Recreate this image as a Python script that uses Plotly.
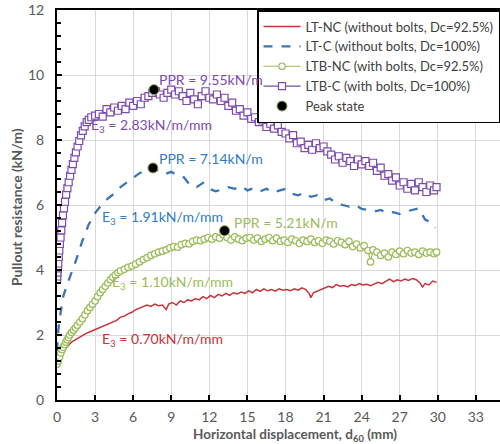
import plotly.graph_objects as go

# ---------------- data ----------------
lt_nc_x = [0.6, 0.8, 1.0, 1.2, 1.4, 1.6, 1.8, 2.0, 2.3, 2.6, 2.9, 3.2, 3.5, 3.8, 4.1, 4.4, 4.7, 5.0, 5.3, 5.6,
           5.9, 6.2, 6.5, 6.8, 7.1, 7.4, 7.7, 8.0, 8.3, 8.6, 8.8, 9.1, 9.4, 9.7, 10.0, 10.3, 10.6, 10.9, 11.2, 11.5,
           11.8, 12.1, 12.4, 12.7, 13.0, 13.3, 13.6, 13.9, 14.2, 14.5, 14.8, 15.1, 15.4, 15.7, 16.0, 16.3, 16.6, 16.9,
           17.2, 17.5, 17.8, 18.1, 18.4, 18.7, 19.0, 19.3, 19.6, 19.9, 20.0, 20.2, 20.5, 20.8, 21.1, 21.4, 21.7, 22.0,
           22.3, 22.6, 22.9, 23.2, 23.5, 23.8, 24.1, 24.4, 24.7, 25.0, 25.3, 25.6, 25.9, 26.2, 26.5, 26.8, 27.1, 27.4,
           27.7, 28.0, 28.3, 28.6, 28.8, 29.0, 29.3, 29.6, 29.9]
lt_nc_y = [1.55, 1.65, 1.72, 1.80, 1.85, 1.90, 1.95, 2.00, 2.05, 2.10, 2.15, 2.18, 2.25, 2.30, 2.35, 2.40, 2.45, 2.55, 2.58, 2.65,
           2.70, 2.78, 2.82, 2.88, 2.92, 2.88, 2.95, 2.90, 2.92, 2.78, 2.95, 3.00, 2.92, 3.05, 3.00, 3.08, 3.05, 3.12, 3.08, 3.18,
           3.12, 3.22, 3.15, 3.25, 3.20, 3.28, 3.22, 3.30, 3.26, 3.32, 3.28, 3.36, 3.30, 3.40, 3.34, 3.42, 3.36, 3.40,
           3.35, 3.42, 3.38, 3.40, 3.36, 3.42, 3.38, 3.45, 3.40, 3.25, 3.15, 3.30, 3.35, 3.42, 3.45, 3.50, 3.46, 3.55,
           3.50, 3.52, 3.48, 3.55, 3.52, 3.58, 3.54, 3.56, 3.52, 3.58, 3.62, 3.58, 3.66, 3.72, 3.64, 3.70, 3.66, 3.72,
           3.68, 3.74, 3.70, 3.60, 3.48, 3.58, 3.54, 3.66, 3.62]

lt_c_x = [0.0, 0.1, 0.25, 0.5, 0.75, 1.0, 1.25, 1.5, 2.0, 2.5, 3.0, 3.5, 4.0, 4.5, 5.0, 5.5, 6.0, 6.5, 7.0, 7.56,
          8.0, 8.5, 9.0, 9.5, 10.0, 10.5, 11.0, 11.5, 12.0, 12.5, 13.0, 13.5, 14.0, 14.5, 15.0, 15.5, 16.0, 16.5,
          17.0, 17.5, 18.0, 18.5, 19.0, 19.5, 20.0, 20.5, 21.0, 21.5, 22.0, 22.5, 23.0, 23.5, 24.0, 24.5, 25.0,
          25.5, 26.0, 26.5, 27.0, 27.5, 28.0, 28.5, 29.0, 29.5, 29.8]
lt_c_y = [1.50, 2.15, 2.60, 3.20, 3.50, 3.75, 4.00, 4.30, 4.90, 5.40, 5.75, 6.00, 6.20, 6.35, 6.55, 6.70, 6.85, 6.98, 7.07, 7.14,
          7.05, 6.95, 7.02, 6.90, 6.85, 6.60, 6.55, 6.68, 6.50, 6.42, 6.48, 6.55, 6.50, 6.58, 6.45, 6.52, 6.42, 6.50,
          6.38, 6.45, 6.50, 6.35, 6.30, 6.38, 6.25, 6.30, 6.15, 6.20, 6.05, 6.00, 5.95, 6.00, 5.88, 5.85, 5.80,
          5.85, 5.75, 5.78, 5.72, 5.80, 5.85, 5.90, 5.55, 5.45, 5.30]

ltb_nc_x = [0.0, 0.1, 0.2, 0.3, 0.4, 0.5, 0.6, 0.7, 0.8, 0.9, 1.0, 1.15, 1.3, 1.45, 1.6, 1.8, 2.0, 2.2, 2.4, 2.6,
            2.8, 3.0, 3.2, 3.4, 3.6, 3.8, 4.0, 4.2, 4.4, 4.6, 4.8, 5.0, 5.3, 5.6, 5.9, 6.2, 6.5, 6.8, 7.1, 7.4,
            7.7, 8.0, 8.3, 8.6, 8.9, 9.2, 9.5, 9.8, 10.1, 10.4, 10.7, 11.0, 11.3, 11.6, 11.9, 12.2, 12.5, 12.8, 13.1,
            13.4, 13.7, 14.0, 14.3, 14.6, 14.9, 15.2, 15.5, 15.8, 16.1, 16.4, 16.7, 17.0, 17.3, 17.6, 17.9, 18.2,
            18.5, 18.8, 19.1, 19.4, 19.7, 20.0, 20.3, 20.6, 20.9, 21.2, 21.5, 21.8, 22.1, 22.4, 22.7, 23.0, 23.3,
            23.6, 23.9, 24.2, 24.5, 24.7, 24.9, 25.2, 25.5, 25.8, 26.1, 26.4, 26.7, 27.0, 27.3, 27.6, 27.9, 28.2,
            28.5, 28.8, 29.1, 29.4, 29.7, 29.9]
ltb_nc_y = [1.10, 1.20, 1.32, 1.45, 1.55, 1.62, 1.70, 1.78, 1.85, 1.92, 2.00, 2.08, 2.15, 2.22, 2.30, 2.40, 2.50, 2.62, 2.75, 2.85,
            2.95, 3.05, 3.18, 3.30, 3.40, 3.50, 3.60, 3.70, 3.78, 3.85, 3.92, 3.97, 4.02, 4.08, 4.12, 4.18, 4.25, 4.32, 4.38, 4.45,
            4.50, 4.55, 4.58, 4.62, 4.68, 4.72, 4.70, 4.78, 4.82, 4.80, 4.88, 4.92, 4.90, 4.95, 5.00, 4.95, 5.02, 4.98, 5.08,
            5.00, 4.92, 5.02, 4.95, 4.90, 4.98, 5.00, 4.92, 4.98, 4.88, 4.95, 5.00, 4.90, 4.98, 4.88, 4.92, 4.85,
            4.95, 4.90, 4.82, 4.92, 4.88, 4.95, 4.85, 4.90, 4.82, 4.92, 4.88, 4.80, 4.90, 4.85, 4.78, 4.88, 4.72,
            4.80, 4.68, 4.75, 4.60, 4.25, 4.62, 4.55, 4.45, 4.52, 4.40, 4.55, 4.48, 4.58, 4.50, 4.60, 4.52, 4.55,
            4.48, 4.58, 4.52, 4.55, 4.50, 4.55]

ltb_c_x = [0.00, 0.02, 0.04, 0.07, 0.10, 0.14, 0.18, 0.23, 0.28, 0.34, 0.40, 0.47, 0.55, 0.63, 0.72, 0.82, 0.92, 1.03,
           1.14, 1.25, 1.37, 1.49, 1.62, 1.75, 1.89, 2.03, 2.18, 2.34, 2.50, 2.70,
           3.0, 3.3, 3.6, 3.9, 4.2, 4.5, 4.8, 5.1, 5.4, 5.7, 6.0, 6.3, 6.6, 6.9, 7.2, 7.5, 7.8, 8.1, 8.4, 8.7,
           9.0, 9.3, 9.6, 9.9, 10.2, 10.5, 10.8, 11.1, 11.4, 11.7, 12.0, 12.3, 12.6, 12.9, 13.2, 13.5, 13.8, 14.1,
           14.4, 14.7, 15.0, 15.3, 15.6, 15.9, 16.2, 16.5, 16.8, 17.1, 17.4, 17.7, 18.0, 18.3, 18.6, 18.9, 19.2,
           19.5, 19.8, 20.1, 20.4, 20.7, 21.0, 21.3, 21.6, 21.9, 22.2, 22.5, 22.8, 23.1, 23.4, 23.7, 24.0, 24.3,
           24.6, 24.9, 25.2, 25.5, 25.8, 26.1, 26.4, 26.7, 27.0, 27.3, 27.6, 27.9, 28.2, 28.5, 28.8, 29.1, 29.4,
           29.7, 29.9]
ltb_c_y = [3.70, 3.80, 3.92, 4.05, 4.20, 4.40, 4.60, 4.80, 5.00, 5.22, 5.45, 5.68, 5.90, 6.10, 6.32, 6.52, 6.70, 6.90,
           7.08, 7.26, 7.45, 7.62, 7.80, 7.97, 8.14, 8.28, 8.42, 8.55, 8.62, 8.70,
           8.75, 8.80, 8.72, 8.95, 8.85, 9.00, 8.90, 9.05, 8.95, 9.15, 9.05, 9.20, 9.10, 9.30, 9.35, 9.45, 9.50, 9.40, 9.30, 9.45,
           9.55, 9.40, 9.50, 9.35, 9.20, 9.45, 9.25, 9.10, 9.35, 9.50, 9.30, 9.25, 9.40, 9.20, 9.30, 9.05, 9.15, 8.90,
           8.95, 8.75, 8.85, 8.65, 8.70, 8.55, 8.60, 8.40, 8.50, 8.35, 8.45, 8.25, 8.20, 8.05, 8.15, 7.90, 7.95,
           7.75, 7.85, 7.70, 7.90, 7.75, 7.80, 7.65, 7.55, 7.40, 7.50, 7.30, 7.45, 7.35, 7.20, 7.40, 7.25, 7.35,
           7.20, 7.30, 7.05, 7.15, 6.90, 6.95, 6.75, 6.85, 6.60, 6.70, 6.50, 6.65, 6.45, 6.70, 6.55, 6.40, 6.60,
           6.45, 6.55]

peak_x = [7.64, 7.56, 13.2]
peak_y = [9.55, 7.14, 5.21]

x_ticks = [0, 3, 6, 9, 12, 15, 18, 21, 24, 27, 30, 33]
y_ticks = [0, 2, 4, 6, 8, 10, 12]

RED = "#C8323C"
BLUE = "#3B74B8"
GREEN = "#9BBB59"
PURPLE = "#7B4BAE"
FONT = "Lato"

fig = go.Figure()
fig.add_trace(go.Scatter(x=lt_nc_x, y=lt_nc_y, mode="lines", name="LT-NC (without bolts, Dc=92.5%)",
                         line=dict(color=RED, width=1.5)))
fig.add_trace(go.Scatter(x=lt_c_x, y=lt_c_y, mode="lines", name="LT-C (without bolts, Dc=100%)",
                         line=dict(color=BLUE, width=2.3, dash="dash")))
fig.add_trace(go.Scatter(x=ltb_nc_x, y=ltb_nc_y, mode="lines+markers", name="LTB-NC (with bolts, Dc=92.5%)",
                         line=dict(color=GREEN, width=1.2),
                         marker=dict(symbol="circle", size=6.5, color="white", line=dict(color=GREEN, width=1.2))))
fig.add_trace(go.Scatter(x=ltb_c_x, y=ltb_c_y, mode="lines+markers", name="LTB-C (with bolts, Dc=100%)",
                         line=dict(color=PURPLE, width=1.2),
                         marker=dict(symbol="square", size=7, color="white", line=dict(color=PURPLE, width=1.2))))
fig.add_trace(go.Scatter(x=peak_x, y=peak_y, mode="markers", name="Peak state",
                         marker=dict(symbol="circle", size=10, color="black", line=dict(color="#8aa94c", width=1))))

ann = [
    ("PPR = 9.55kN/m", 7.87, 9.85, PURPLE),
    ("E<sub>3</sub> = 2.83kN/m/mm", 2.5, 8.45, PURPLE),
    ("PPR = 7.14kN/m", 7.87, 7.42, "#2E7BC4"),
    ("E<sub>3</sub> = 1.91kN/m/mm", 3.4, 5.63, "#2E7BC4"),
    ("PPR = 5.21kN/m", 13.8, 5.45, GREEN),
    ("E<sub>3</sub> = 1.10kN/m/mm", 4.2, 3.63, GREEN),
    ("E<sub>3</sub> = 0.70kN/m/mm", 3.4, 1.85, RED),
]
for t, x, y, c in ann:
    fig.add_annotation(text=t, x=x, y=y, xref="x", yref="y", xanchor="left", yanchor="middle",
                       showarrow=False, font=dict(family=FONT, size=14, color=c))

fig.add_annotation(text="<b>Horizontal displacement, d<sub>60</sub> (mm)</b>", xref="paper", yref="paper",
                   x=0.537, y=-0.0897, xanchor="center", yanchor="middle", showarrow=False,
                   font=dict(family=FONT, size=13.5, color="#595959"))
fig.add_annotation(text="<b>Pullout resistance (kN/m)</b>", xref="paper", yref="paper",
                   x=-0.09, y=0.495, xanchor="center", yanchor="middle", textangle=-90, showarrow=False,
                   font=dict(family=FONT, size=14, color="#595959"))

fig.update_layout(
    width=500, height=444,
    margin=dict(l=57, r=0, t=10, b=44, autoexpand=False),
    plot_bgcolor="white", paper_bgcolor="white",
    font=dict(family=FONT, size=14, color="#595959"),
    showlegend=True,
    legend=dict(x=1.0, y=1.0, xanchor="right", yanchor="top", bgcolor="white",
                bordercolor="black", borderwidth=1.5, font=dict(family=FONT, size=13, color="#404040"),
                tracegroupgap=0, itemsizing="trace", itemwidth=37),
    xaxis=dict(range=[0, 34.9], tickvals=x_ticks, ticks="inside", ticklen=5, tickwidth=2, tickcolor="black",
               showline=True, linecolor="black", linewidth=2, mirror=True,
               showgrid=True, gridcolor="#D9D9D9", gridwidth=1, zeroline=False,
               tickfont=dict(family=FONT, size=14, color="#595959"), ticklabelstandoff=3),
    yaxis=dict(range=[0, 12], tickvals=y_ticks, ticks="inside", ticklen=5, tickwidth=2, tickcolor="black",
               showline=True, linecolor="black", linewidth=2,
               showgrid=True, gridcolor="#D9D9D9", gridwidth=1, zeroline=False,
               minor=dict(dtick=0.4, ticks="inside", ticklen=4, tickwidth=1.5, tickcolor="black", showgrid=False),
               tickfont=dict(family=FONT, size=14, color="#595959"), ticklabelstandoff=8),
)

fig.write_html("out.html")
